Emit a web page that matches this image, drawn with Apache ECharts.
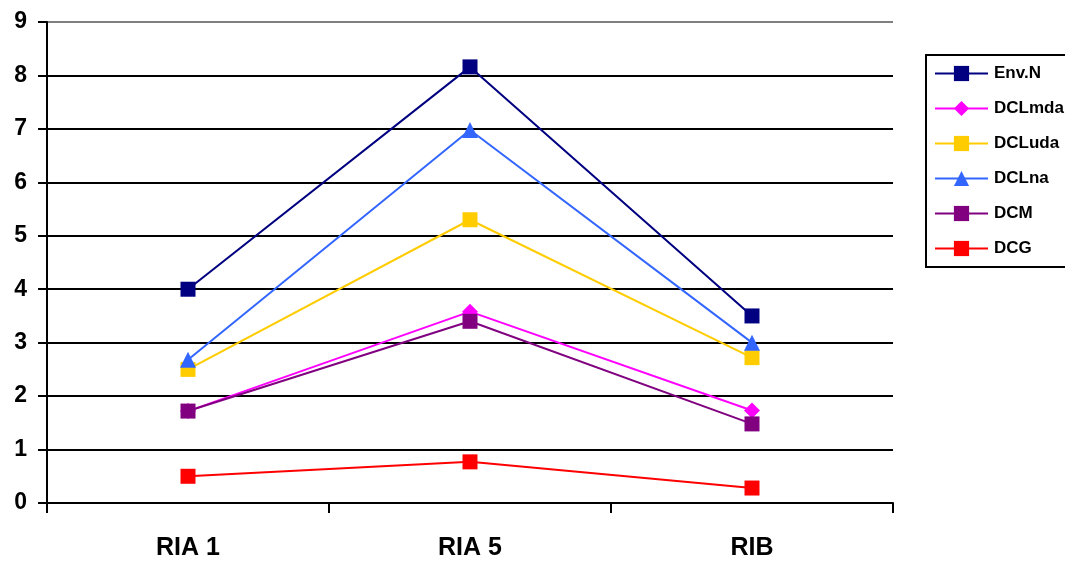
<!DOCTYPE html>
<html><head><meta charset="utf-8">
<script src="https://cdn.jsdelivr.net/npm/echarts@6/dist/echarts.min.js"></script>
<style>html,body{margin:0;padding:0;background:#fff}#c{width:1065px;height:565px}</style>
</head><body><div id="c"></div>
<script>
const categories = ['RIA 1', 'RIA 5', 'RIB'];
const envN   = [4.0, 8.16, 3.5];
const dclmda = [1.72, 3.58, 1.73];
const dcluda = [2.5, 5.3, 2.72];
const dclna  = [2.68, 6.98, 3.0];
const dcm    = [1.72, 3.4, 1.48];
const dcg    = [0.5, 0.77, 0.28];
const yTicks = [0, 1, 2, 3, 4, 5, 6, 7, 8, 9];

const FONT = '"Liberation Sans", Arial, sans-serif';
function mk(name, data, color, symbol, size) {
  return {
    name, type: 'line', data, symbol, symbolSize: size,
    lineStyle: { color, width: 2 },
    itemStyle: { color },
    emphasis: { disabled: true },
    animation: false
  };
}
const chart = echarts.init(document.getElementById('c'));
chart.setOption({
  backgroundColor: '#fff',
  animation: false,
  grid: { left: 47, right: 172, top: 22, bottom: 62 },
  xAxis: {
    type: 'category', data: categories, boundaryGap: true,
    axisLine: { lineStyle: { color: '#000', width: 2 } },
    axisTick: { show: true, length: 10, lineStyle: { color: '#000', width: 2 } },
    axisLabel: { color: '#000', fontSize: 25, fontWeight: 'bold', fontFamily: FONT, margin: 33 }
  },
  yAxis: {
    type: 'value', min: yTicks[0], max: yTicks[yTicks.length - 1], interval: 1,
    axisLine: { show: true, lineStyle: { color: '#000', width: 2 } },
    axisTick: { show: true, length: 9, lineStyle: { color: '#000', width: 2 } },
    axisLabel: { color: '#000', fontSize: 23, fontWeight: 'bold', fontFamily: FONT, margin: 20 },
    splitLine: { show: true, lineStyle: { color: ['#000','#000','#000','#000','#000','#000','#000','#000','#000','#808080'], width: 2 } }
  },
  legend: {
    orient: 'vertical', left: 926, top: 55,
    padding: [10, 60, 10, 8],
    borderColor: '#000', borderWidth: 2,
    itemWidth: 53, itemHeight: 19, itemGap: 18,
    lineStyle: { width: 2 },
    textStyle: { color: '#000', fontSize: 17, fontWeight: 'bold', fontFamily: FONT, padding: [0, 0, 0, 1] },
    data: ['Env.N', 'DCLmda', 'DCLuda', 'DCLna', 'DCM', 'DCG']
  },
  series: [
    mk('Env.N', envN, '#000080', 'rect', 15),
    mk('DCLmda', dclmda, '#FF00FF', 'diamond', 16),
    mk('DCLuda', dcluda, '#FFCC00', 'rect', 15),
    mk('DCLna', dclna, '#3366FF', 'triangle', 16),
    mk('DCM', dcm, '#800080', 'rect', 15),
    mk('DCG', dcg, '#FF0000', 'rect', 15)
  ]
});
</script></body></html>
